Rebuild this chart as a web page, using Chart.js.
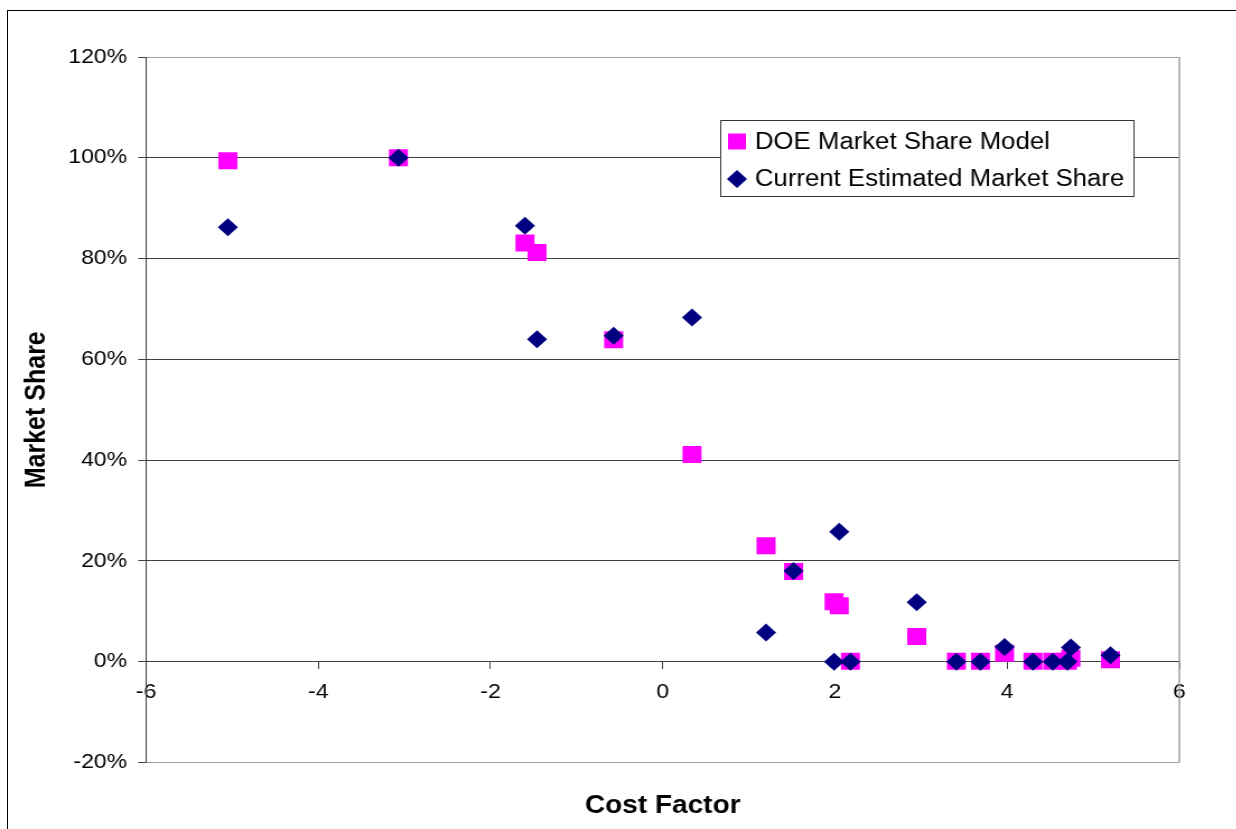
<!DOCTYPE html>
<html>
<head>
<meta charset="utf-8">
<script src="https://cdn.jsdelivr.net/npm/chart.js@4.4.1/dist/chart.umd.min.js"></script>
<style>
  html, body { margin: 0; padding: 0; background: #fff; overflow: hidden; }
  #frame {
    position: absolute; left: 7px; top: 10px; width: 1400px; height: 1000px;
    border-left: 1px solid #000; border-top: 1px solid #000;
  }
  /* the source picture is a bit wider than tall, so stretch it the same way */
  #wrap {
    position: absolute; left: 0; top: 0; width: 1104px; height: 930px;
    transform: scaleX(1.12); transform-origin: 0 0;
  }
</style>
</head>
<body>
<div id="frame"></div>
<div id="wrap"><canvas id="myChart" width="1104" height="930"></canvas></div>
<script>
const costFactor = [-5.05, -3.07, -1.60, -1.46, -0.57, 0.34, 1.20, 1.52, 1.99, 2.05,
  2.18, 2.95, 3.41, 3.69, 3.97, 4.30, 4.53, 4.70, 4.74, 5.20];

// market share in %
const doeShare = [99.4, 100, 83.1, 81.2, 63.9, 41.1, 23.0, 17.9, 11.9, 11.1,
  0.1, 5.0, 0.1, 0.1, 1.7, 0.1, 0.1, 0.1, 0.7, 0.4];
const currentShare = [86.2, 100, 86.5, 64.0, 64.7, 68.3, 5.8, 18.0, 0, 25.8,
  0, 11.8, 0, 0, 2.9, 0, 0, 0, 2.8, 1.3];

const seriesNames = ["DOE Market Share Model", "Current Estimated Market Share"];
const xTicks = [-6, -4, -2, 0, 2, 4, 6];
const yTicks = [-20, 0, 20, 40, 60, 80, 100, 120];

Chart.defaults.font.family = "'Liberation Sans', Arial, sans-serif";
Chart.defaults.color = "#000";

let toPoints = (shares) => costFactor.map((x, i) => ({ x: x, y: shares[i] }));

// Excel style legend box sitting inside the plot area
const boxLegend = {
  id: "boxLegend",
  afterDatasetsDraw(chart) {
    const ctx = chart.ctx;
    const left = 643, top = 120, w = 369, h = 76;
    ctx.save();
    ctx.fillStyle = "#fff";
    ctx.fillRect(left, top, w, h);
    ctx.strokeStyle = "#333";
    ctx.lineWidth = 1;
    ctx.strokeRect(left + 0.5, top + 0.5, w, h);
    ctx.font = "23px 'Liberation Sans', Arial, sans-serif";
    ctx.textBaseline = "middle";
    chart.data.datasets.forEach((ds, i) => {
      const y = top + 21.5 + i * 37.5;
      const mx = left + 15;
      ctx.fillStyle = ds.backgroundColor;
      ctx.beginPath();
      if (ds.pointStyle === "rect") {
        ctx.rect(mx - 8, y - 8, 16, 16);
      } else {
        ctx.moveTo(mx - 9, y);
        ctx.lineTo(mx, y - 9);
        ctx.lineTo(mx + 9, y);
        ctx.lineTo(mx, y + 9);
        ctx.closePath();
      }
      ctx.fill();
      ctx.fillStyle = "#000";
      ctx.fillText(ds.label, left + 31, y + 1);
    });
    ctx.restore();
  },
};

// grey right edge of the plot area
const plotEdge = {
  id: "plotEdge",
  beforeDatasetsDraw(chart) {
    const { ctx, chartArea } = chart;
    ctx.save();
    ctx.strokeStyle = "#a0a0a0";
    ctx.lineWidth = 1.5;
    ctx.beginPath();
    ctx.moveTo(chartArea.right, chartArea.top);
    ctx.lineTo(chartArea.right, chartArea.bottom);
    ctx.stroke();
    ctx.restore();
  },
};

const myChart = new Chart(document.getElementById("myChart"), {
  type: "scatter",
  data: {
    datasets: [
      {
        label: seriesNames[0],
        data: toPoints(doeShare),
        pointStyle: "rect",
        pointRadius: 12,
        borderWidth: 0,
        backgroundColor: "#ff00ff",
        borderColor: "#ff00ff",
        order: 1,
      },
      {
        label: seriesNames[1],
        data: toPoints(currentShare),
        pointStyle: "rectRot",
        pointRadius: 9,
        borderWidth: 0,
        backgroundColor: "#000080",
        borderColor: "#000080",
        order: 0,
      },
    ],
  },
  options: {
    responsive: false,
    animation: false,
    events: [],
    // the x axis sits on 0% and takes no room, so the bottom padding holds the plot edge
    layout: { padding: { left: 4, right: 51, top: 57, bottom: 167.5 } },
    plugins: {
      legend: { display: false },
      tooltip: { enabled: false },
    },
    scales: {
      x: {
        type: "linear",
        position: { y: 0 },
        min: -6,
        max: 6,
        afterBuildTicks: (axis) => { axis.ticks = xTicks.map((v) => ({ value: v })); },
        ticks: { font: { size: 20.5 }, padding: 11, color: "#000" },
        grid: { drawOnChartArea: false, drawTicks: true, tickLength: 7, tickColor: "#404040" },
        border: { display: true, color: "#404040", width: 1 },
        title: {
          display: true,
          text: "Cost Factor",
          font: { size: 25, weight: "bold" },
          padding: { top: 76, bottom: 0 },
          color: "#000",
        },
      },
      y: {
        min: -20,
        max: 120,
        afterBuildTicks: (axis) => { axis.ticks = yTicks.map((v) => ({ value: v })); },
        ticks: {
          font: { size: 20.5 },
          padding: 10,
          color: "#000",
          callback: (value) => value + "%",
        },
        grid: {
          color: (c) => (c.tick && (c.tick.value === 120 || c.tick.value === -20) ? "#a0a0a0" : "#404040"),
          tickColor: "#404040",
          tickLength: 7,
          lineWidth: 1,
        },
        border: { display: true, color: "#404040", width: 1 },
        title: {
          display: true,
          text: "Market Share",
          font: { size: 25, weight: "bold" },
          padding: { top: 14, bottom: 3 },
          color: "#000",
        },
      },
    },
  },
  plugins: [plotEdge, boxLegend],
});
</script>
</body>
</html>
